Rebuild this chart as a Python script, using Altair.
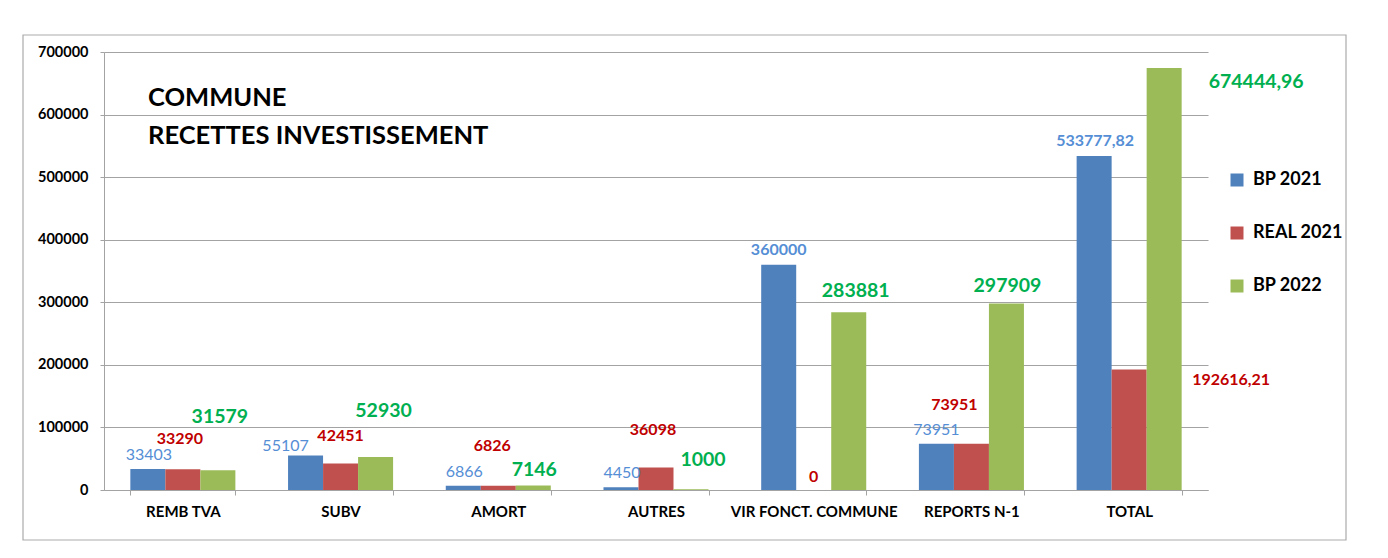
import altair as alt
import pandas as pd

# ---- data ----
categories = ["REMB TVA", "SUBV", "AMORT", "AUTRES", "VIR FONCT. COMMUNE", "REPORTS N-1", "TOTAL"]
series = ["BP 2021", "REAL 2021", "BP 2022"]
bp2021 = [33403, 55107, 6866, 4450, 360000, 73951, 533777.82]
real2021 = [33290, 42451, 6826, 36098, 0, 73951, 192616.21]
bp2022 = [31579, 52930, 7146, 1000, 283881, 297909, 674444.96]
text_bp2021 = ["33403", "55107", "6866", "4450", "360000", "73951", "533777,82"]
text_real2021 = ["33290", "42451", "6826", "36098", "0", "73951", "192616,21"]
text_bp2022 = ["31579", "52930", "7146", "1000", "283881", "297909", "674444,96"]
y_ticks = [0, 100000, 200000, 300000, 400000, 500000, 600000, 700000]
title_lines = ["COMMUNE", "RECETTES INVESTISSEMENT"]

# ---- styling (label placement as dragged in the source, px from bar top) ----
bar_colors = ["#4F81BD", "#C0504D", "#9BBB59"]
label_colors = ["#558ED5", "#C00000", "#00B050"]
label_sizes = [16, 16, 19.5]
off_bp2021 = [(1, -14), (-20, -10), (1, -14), (1, -14), (0, -15), (0, -14), (1, -15)]
off_real2021 = [(-3, -30), (0, -27), (-6, -40), (-3, -37), (0, -13), (-17, -39), (102, 11)]
off_bp2022 = [(2, -53), (8, -46), (1, -16), (12, -29), (7, -21), (1, -18), (92, 14)]
bold_bp2021 = ["normal", "normal", "normal", "normal", "bold", "normal", "bold"]

FONT = "Lato"
GRID = "#A3A3A3"

rows = []
for s, vals, txts in zip(series, [bp2021, real2021, bp2022], [text_bp2021, text_real2021, text_bp2022]):
    for c, v, t in zip(categories, vals, txts):
        rows.append({"cat": c, "series": s, "value": v, "label": t})
df = pd.DataFrame(rows)

x_enc = alt.X("cat:N", scale=alt.Scale(domain=categories, paddingInner=0.334, paddingOuter=0.167),
              axis=alt.Axis(title=None, labelAngle=0, labelFont=FONT, labelFontSize=15,
                            labelFontWeight="bold", labelColor="black", tickBand="extent",
                            tickSize=5, tickColor=GRID, domainColor=GRID, labelPadding=9,
                            labelLimit=300, labelOverlap=False, grid=False))
xo_enc = alt.XOffset("series:N", scale=alt.Scale(domain=series, paddingInner=0, paddingOuter=0))
y_enc = alt.Y("value:Q", scale=alt.Scale(domain=[0, 700000], nice=False),
              axis=alt.Axis(title=None, values=y_ticks, format="d", labelFont=FONT, labelFontSize=14.5,
                            labelFontWeight="bold", labelColor="black", tickSize=4, tickColor=GRID,
                            domainColor=GRID, gridColor=GRID, labelPadding=12))

frame = alt.Chart(pd.DataFrame({"a": [0]})).mark_rect(
    fillOpacity=0, stroke="#ABABAB", strokeWidth=1.2
).encode(x=alt.value(-81), x2=alt.value(1242), y=alt.value(-17), y2=alt.value(488))

bars = alt.Chart(df).mark_bar().encode(
    x=x_enc, xOffset=xo_enc, y=y_enc,
    color=alt.Color("series:N", scale=alt.Scale(domain=series, range=bar_colors),
                    legend=alt.Legend(orient="none", legendX=1124, legendY=119, title=None,
                                      symbolType="square", symbolSize=169, symbolStrokeWidth=0,
                                      labelFont=FONT, labelFontSize=18, labelFontWeight="bold",
                                      labelColor="black", rowPadding=35, labelOffset=7, padding=0)),
)

layers = [frame, bars]
offsets = [off_bp2021, off_real2021, off_bp2022]
for si, s in enumerate(series):
    for ci, c in enumerate(categories):
        row = df[(df.series == s) & (df.cat == c)]
        dx, dy = offsets[si][ci]
        weight = bold_bp2021[ci] if si == 0 else "bold"
        layers.append(
            alt.Chart(row).mark_text(
                dx=dx, dy=dy, align="center", baseline="middle", font=FONT,
                fontSize=label_sizes[si], fontWeight=weight, color=label_colors[si]
            ).encode(x=x_enc, xOffset=xo_enc, y=y_enc, text="label:N")
        )

title = alt.Chart(pd.DataFrame({"t": ["\n".join(title_lines)]})).mark_text(
    align="left", baseline="middle", font=FONT, fontSize=25.5, fontWeight="bold",
    color="black", lineBreak="\n", lineHeight=38
).encode(x=alt.value(44), y=alt.value(46), text="t:N")
layers.append(title)

chart = alt.layer(*layers).properties(
    width=1104, height=438,
    padding={"left": 96, "top": 44, "right": 172, "bottom": 60},
    autosize=alt.AutoSizeParams(type="none"),
).configure_view(stroke=None)

chart.save("out.html", embed_options={"renderer": "svg", "actions": False})
